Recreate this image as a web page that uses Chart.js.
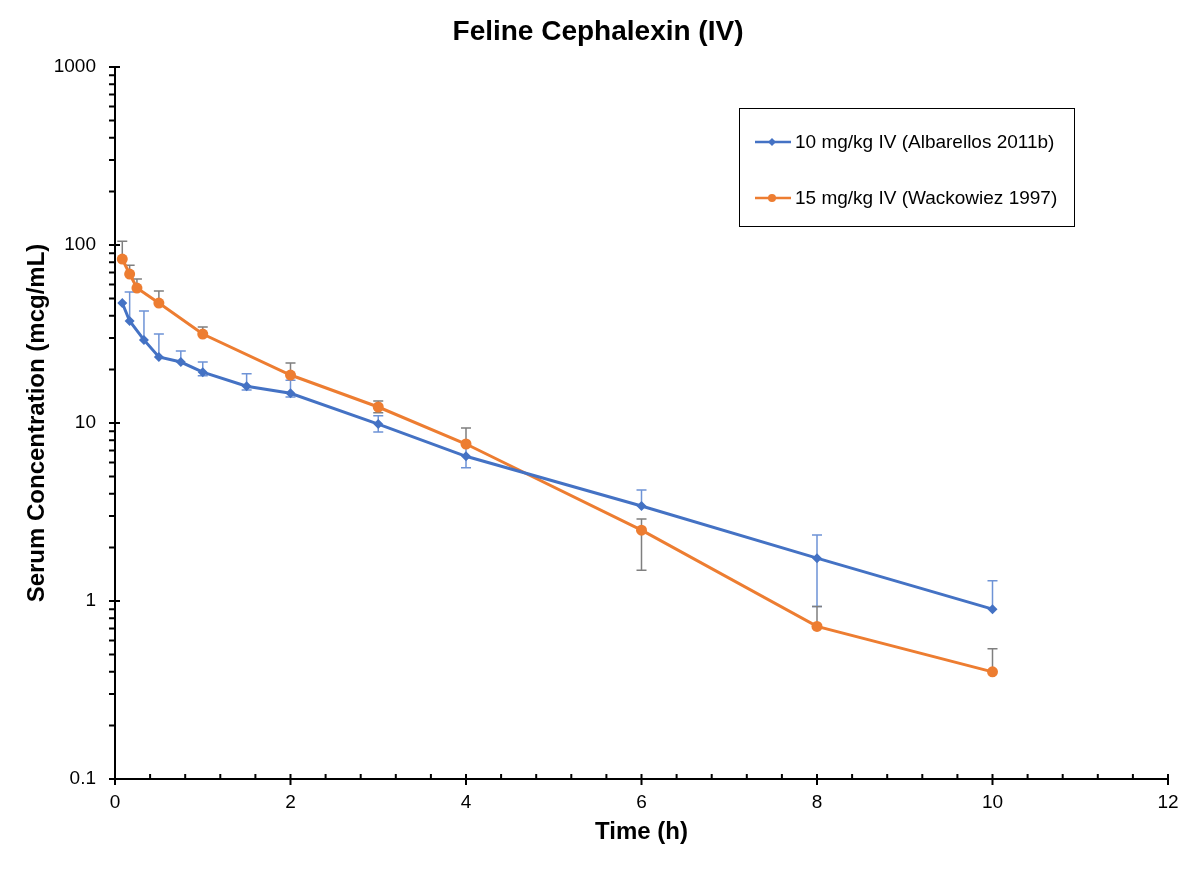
<!DOCTYPE html>
<html>
<head>
<meta charset="utf-8">
<script src="https://cdn.jsdelivr.net/npm/chart.js@4/dist/chart.umd.min.js"></script>
<style>
  html, body { margin: 0; padding: 0; background: #fff; }
  #wrap { width: 1200px; height: 871px; }
</style>
</head>
<body>
<div id="wrap"><canvas id="pk-chart" width="1200" height="871"></canvas></div>
<script>
// start: data
const blueLabel = '10 mg/kg IV (Albarellos 2011b)';
const blueTimes = [0.083, 0.167, 0.33, 0.5, 0.75, 1, 1.5, 2, 3, 4, 6, 8, 10];
const blueConc  = [47.2, 37.4, 29.3, 23.5, 22.0, 19.3, 16.1, 14.7, 9.86, 6.5, 3.42, 1.74, 0.90];
const blueUpper = [null, 54.4, 42.6, 31.6, 25.4, 22.0, 18.9, 17.4, 11.0, 7.6, 4.2, 2.35, 1.30];
const blueLower = [null, null, null, null, null, 18.4, 15.3, 14.0, 8.9, 5.6, null, 0.93, null];

const orangeLabel = '15 mg/kg IV (Wackowiez 1997)';
const orangeTimes = [0.083, 0.167, 0.25, 0.5, 1, 2, 3, 4, 6, 8, 10];
const orangeConc  = [83.4, 68.7, 57.3, 47.2, 31.6, 18.6, 12.3, 7.62, 2.5, 0.72, 0.40];
const orangeUpper = [105, 77, 64.4, 55.2, 34.6, 21.7, 13.3, 9.38, 2.89, 0.93, 0.54];
const orangeLower = [null, null, null, null, null, null, 11.4, null, 1.49, null, null];

const yTickValues = [0.1, 1, 10, 100, 1000];
const xTickValues = [0, 2, 4, 6, 8, 10, 12];
// end: data

const BLUE = '#4472C4';
const ORANGE = '#ED7D31';
const FONT = '"Liberation Sans", Arial, Helvetica, sans-serif';

function toPoints(xs, ys) {
    return xs.map((x, i) => ({ x: x, y: ys[i] }));
}

// error bars drawn through the chart's own scales
const errorBars = {
    id: 'errorBars',
    beforeDatasetsDraw(chart) {
        const ctx = chart.ctx;
        const xs = chart.scales.x, ys = chart.scales.y;
        chart.data.datasets.forEach(ds => {
            ctx.save();
            ctx.strokeStyle = ds.errColor;
            ctx.lineWidth = 1.5;
            ds.data.forEach((p, i) => {
                const px = xs.getPixelForValue(p.x);
                const py = ys.getPixelForValue(p.y);
                [ds.errUpper[i], ds.errLower[i]].forEach(v => {
                    if (v == null) return;
                    const ey = ys.getPixelForValue(v);
                    ctx.beginPath();
                    ctx.moveTo(px, py);
                    ctx.lineTo(px, ey);
                    ctx.moveTo(px - 5, ey);
                    ctx.lineTo(px + 5, ey);
                    ctx.stroke();
                });
            });
            ctx.restore();
        });
    }
};

// axis lines with major/minor tick marks
const axes = {
    id: 'axes',
    afterDatasetsDraw(chart) {
        const ctx = chart.ctx;
        const xs = chart.scales.x, ys = chart.scales.y;
        const left = chart.chartArea.left, bottom = chart.chartArea.bottom;
        ctx.save();
        ctx.strokeStyle = '#000';
        ctx.lineWidth = 2;
        ctx.beginPath();
        ctx.moveTo(left, chart.chartArea.top);
        ctx.lineTo(left, bottom);
        ctx.lineTo(chart.chartArea.right, bottom);
        ctx.stroke();

        ctx.beginPath();
        yTickValues.forEach(v => {
            const y = ys.getPixelForValue(v);
            ctx.moveTo(left - 6, y); ctx.lineTo(left + 5, y);
        });
        for (let d = 0.1; d < 1000; d *= 10) {
            for (let m = 2; m <= 9; m++) {
                const y = ys.getPixelForValue(m * d);
                ctx.moveTo(left - 6, y); ctx.lineTo(left, y);
            }
        }
        xTickValues.forEach(v => {
            const x = xs.getPixelForValue(v);
            ctx.moveTo(x, bottom - 5); ctx.lineTo(x, bottom + 6);
        });
        for (let k = 1; k < 30; k++) {
            if (k % 5 === 0) continue;
            const x = xs.getPixelForValue(k * 0.4);
            ctx.moveTo(x, bottom); ctx.lineTo(x, bottom - 5);
        }
        ctx.stroke();
        ctx.restore();
    }
};

// boxed legend inside the plot
const boxLegend = {
    id: 'boxLegend',
    afterLayout(chart) {
        // centre the title over the whole page, not the padded box
        const t = chart.titleBlock;
        t.right = 1196;
        t.width = t.right - t.left;
    },
    afterDraw(chart) {
        const ctx = chart.ctx;
        ctx.save();
        ctx.strokeStyle = '#000';
        ctx.lineWidth = 1;
        ctx.strokeRect(739.5, 108.5, 335, 118);
        ctx.font = '19px ' + FONT;
        ctx.textBaseline = 'middle';
        ctx.fillStyle = '#000';
        const rows = [142, 198];
        chart.data.datasets.forEach((ds, i) => {
            const y = rows[i];
            ctx.strokeStyle = ds.borderColor;
            ctx.lineWidth = 2.5;
            ctx.beginPath();
            ctx.moveTo(755, y); ctx.lineTo(791, y);
            ctx.stroke();
            ctx.fillStyle = ds.borderColor;
            ctx.beginPath();
            if (ds.pointStyle === 'rectRot') {
                ctx.moveTo(772, y - 4); ctx.lineTo(776, y); ctx.lineTo(772, y + 4); ctx.lineTo(768, y);
            } else {
                ctx.arc(772, y, 4, 0, Math.PI * 2);
            }
            ctx.fill();
            ctx.fillStyle = '#000';
            ctx.fillText(ds.label, 795, y + 1);
        });
        ctx.restore();
    }
};

const pkChart = new Chart(document.getElementById('pk-chart'), {
    type: 'line',
    data: {
        datasets: [{
            label: blueLabel,
            data: toPoints(blueTimes, blueConc),
            errUpper: blueUpper,
            errLower: blueLower,
            errColor: '#6E93D6',
            borderColor: BLUE,
            backgroundColor: BLUE,
            borderWidth: 3,
            pointStyle: 'rectRot',
            pointRadius: 5,
            pointBorderWidth: 0,
            tension: 0
        }, {
            label: orangeLabel,
            data: toPoints(orangeTimes, orangeConc),
            errUpper: orangeUpper,
            errLower: orangeLower,
            errColor: '#7F7F7F',
            borderColor: ORANGE,
            backgroundColor: ORANGE,
            borderWidth: 3,
            pointStyle: 'circle',
            pointRadius: 5.5,
            pointBorderWidth: 0,
            tension: 0
        }]
    },
    options: {
        responsive: false,
        animation: false,
        layout: { padding: { left: 0, right: 32, top: 0, bottom: 0 } },
        plugins: {
            legend: { display: false },
            tooltip: { enabled: false },
            title: {
                display: true,
                text: 'Feline Cephalexin (IV)',
                color: '#000',
                font: { family: FONT, size: 28, weight: 'bold' },
                padding: { top: 15, bottom: 18.4 }
            }
        },
        scales: {
            x: {
                type: 'linear',
                min: 0,
                max: 12,
                grid: { display: false },
                border: { display: false },
                afterBuildTicks: s => { s.ticks = xTickValues.map(v => ({ value: v })); },
                afterFit: s => { s.height = 92; },
                ticks: {
                    color: '#000',
                    padding: 4,
                    maxRotation: 0,
                    font: { family: FONT, size: 19 }
                },
                title: {
                    display: true,
                    text: 'Time (h)',
                    color: '#000',
                    font: { family: FONT, size: 24, weight: 'bold' },
                    padding: { top: 0, bottom: 24.6 }
                }
            },
            y: {
                type: 'logarithmic',
                min: 0.1,
                max: 1000,
                grid: { display: false },
                border: { display: false },
                afterBuildTicks: s => { s.ticks = yTickValues.map(v => ({ value: v })); },
                afterFit: s => { s.width = 115; },
                ticks: {
                    color: '#000',
                    padding: 11,
                    font: { family: FONT, size: 19 },
                    callback: v => String(v)
                },
                title: {
                    display: true,
                    text: 'Serum Concentration (mcg/mL)',
                    color: '#000',
                    font: { family: FONT, size: 24, weight: 'bold' },
                    padding: { top: 22.6, bottom: 0 }
                }
            }
        }
    },
    plugins: [errorBars, axes, boxLegend]
});
</script>
</body>
</html>
